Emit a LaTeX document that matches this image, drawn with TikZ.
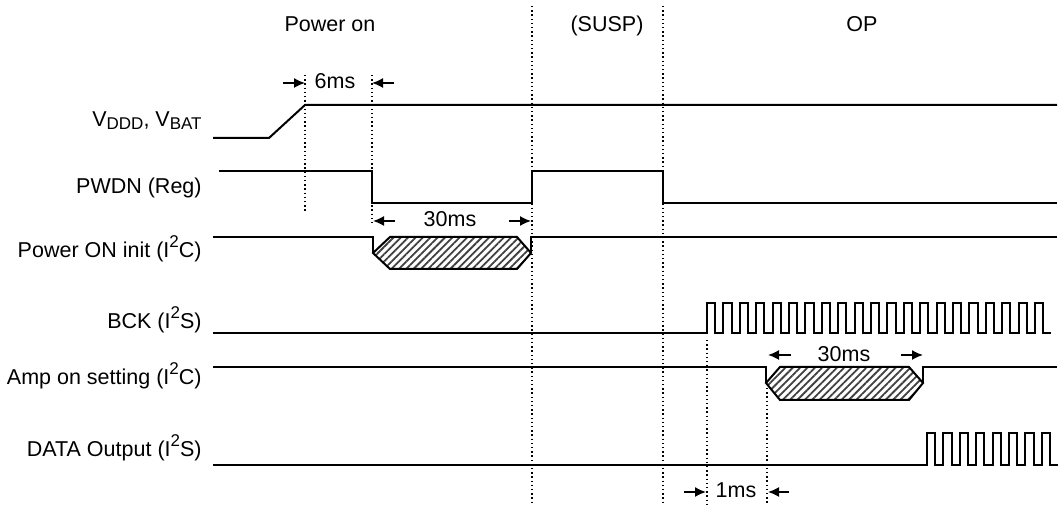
\documentclass[tikz,border=0pt]{standalone}
\usepackage{fontspec}
\setmainfont{Liberation Sans}
\usetikzlibrary{arrows.meta,patterns.meta,positioning}
\newcommand{\subtxt}[1]{\raisebox{-1.5pt}{\fontsize{8.5}{9}\selectfont #1}}
\newcommand{\suptxt}[1]{\raisebox{5.2pt}{\fontsize{8.5}{9}\selectfont #1}}

\begin{document}
\begin{tikzpicture}[x=0.5pt, y=-0.5pt,
font=\fontsize{10.75}{13}\selectfont,
sig/.style={line width=1pt, line join=miter},
busy/.style={sig, pattern={Lines[angle=45,distance=2.6pt,line width=0.9pt]}, pattern color=black!75},
guide/.style={line width=0.75pt, dash pattern=on 0.75pt off 1.35pt},
dim/.style={-{Latex[length=5.5pt,width=5pt]}, line width=0.8pt},
lbl/.style={anchor=base east, inner sep=0pt},
tag/.style={anchor=base, inner sep=0pt}
]
\useasboundingbox (0,0) rectangle (1059,506);

% phases
\node[tag] (pon) at (330,32) {Power on};
\node[tag] (susp) at (607,32) {(SUSP)};
\node[tag] (op) at (862,32) {OP};

% signal names
\node[lbl] (vdd) at (202,127) {V\subtxt{DDD}, V\subtxt{BAT}};
\node[lbl] (pwdn) at (202,194) {PWDN (Reg)};
\node[lbl] (init) at (202,258) {Power ON init (I\suptxt{2}C)};
\node[lbl] (bck) at (202,329) {BCK (I\suptxt{2}S)};
\node[lbl] (amp) at (202,385) {Amp on setting (I\suptxt{2}C)};
\node[lbl] (data) at (202,457) {DATA Output (I\suptxt{2}S)};

% timing marks
\draw[guide] (305,75) -- (305,213);
\draw[guide] (372,75) -- (372,226);
\draw[guide] (532,6) -- (532,505);
\draw[guide] (663,6) -- (663,505);
\draw[guide] (707,340) -- (707,505);
\draw[guide] (767,388) -- (767,505);

% waveforms
\draw[sig] (213,138) -- (269,138) -- (305,105) -- (1057,105);
\draw[sig] (219,171) -- (372,171) -- (372,203) -- (532,203) -- (532,171)
  -- (663,171) -- (663,203) -- (1057,203);

\draw[sig] (213,237) -- (373,237) -- (373,253);
\draw[busy] (373,253) -- (390,237) -- (517,237) -- (531,253) -- (517,269) -- (390,269) -- cycle;
\draw[sig] (531,253) -- (531,237) -- (1057,237);

\draw[sig] (213,333) -- (707,333)
  \foreach \i in {0,...,20}{ -- ++(0,-30) -- ++(8.2,0) -- ++(0,30) -- ++(8.2,0)};

\draw[sig] (213,367) -- (766,367) -- (766,383);
\draw[busy] (766,383) -- (780,367) -- (909,367) -- (923,383) -- (909,400) -- (780,400) -- cycle;
\draw[sig] (923,383) -- (923,367) -- (1057,367);

\draw[sig] (213,465) -- (927,465)
  \foreach \i in {0,...,7}{ -- ++(0,-32) -- ++(8.2,0) -- ++(0,32) -- ++(8.2,0)};

% dimensions
\draw[dim] (283,83) -- (305,83);
\draw[dim] (394,83) -- (372,83);
\node[tag] (d6) at (335,89) {6ms};

\draw[dim] (395,221) -- (373,221);
\draw[dim] (509,221) -- (531,221);
\node[tag] (d30a) at (450,227) {30ms};

\draw[dim] (791,355) -- (768,355);
\draw[dim] (901,355) -- (923,355);
\node[tag] (d30b) at (844,362) {30ms};

\draw[dim] (684,492) -- (706,492);
\draw[dim] (789,492) -- (768,492);
\node[tag] (d1) at (736,498) {1ms};

\end{tikzpicture}
\end{document}
